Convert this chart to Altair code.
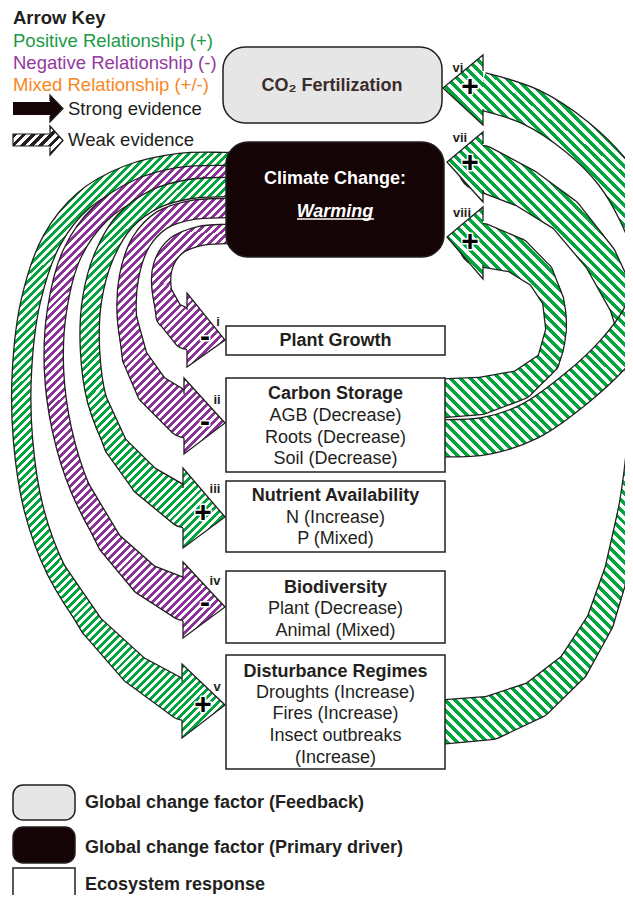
import math
import altair as alt
import pandas as pd

# ------------------------------------------------------------------
# Values (page pixel coordinates)
# ------------------------------------------------------------------
# arrow centre lines, from the source box to the arrow head
ARROW_I_X = [245, 226, 200, 176, 163, 162, 170, 189]
ARROW_I_Y = [234, 234, 236, 246, 266, 292, 315, 330]
ARROW_II_X = [245, 226, 192, 162, 141, 129, 127, 135, 153, 186]
ARROW_II_Y = [208, 208, 210, 220, 242, 277, 318, 358, 390, 416]
ARROW_III_X = [245, 226, 190, 155, 125, 104, 92, 90, 97, 116, 146, 185]
ARROW_III_Y = [187, 187, 189, 199, 221, 256, 300, 350, 400, 446, 481, 508]
ARROW_IV_X = [245, 226, 180, 138, 100, 72, 57, 54, 62, 80, 110, 146, 185]
ARROW_IV_Y = [175, 175, 177, 189, 214, 254, 310, 370, 430, 488, 543, 580, 600]
ARROW_V_X = [245, 226, 180, 128, 84, 52, 31, 22, 23, 34, 56, 92, 135, 184]
ARROW_V_Y = [162, 162, 163, 175, 200, 240, 300, 370, 440, 510, 570, 626, 670, 701]
ARROW_VI_X = [430, 485, 530, 578, 615, 640, 652, 650, 637, 613, 577, 531, 481]
ARROW_VI_Y = [438, 436, 421, 387, 352, 318, 283, 248, 213, 173, 137, 107, 91]
ARROW_VII_X = [430, 490, 535, 573, 600, 617, 630, 638, 640, 636, 624, 600, 565, 525, 481]
ARROW_VII_Y = [723, 718, 700, 667, 622, 570, 510, 450, 400, 350, 305, 258, 215, 188, 168]
ARROW_VIII_X = [430, 480, 520, 548, 556, 553, 540, 515, 481]
ARROW_VIII_Y = [399, 396, 385, 362, 330, 300, 275, 255, 245]

# arrows in drawing order
ARROW_LABELS = ["vii", "vi", "viii", "v", "iv", "iii", "ii", "i"]
ARROW_SIGN = ["+", "+", "+", "+", "-", "+", "-", "-"]
HEAD_BASE_X = [483, 483, 483, 182, 183, 183, 184, 187]
HEAD_TIP_X = [447, 443, 447, 225, 225, 225, 225, 225]
HEAD_CY = [167, 90, 243, 701, 600, 508, 416, 330]
HEAD_HALF = [35, 35, 36, 37, 38, 40, 38, 37]
HEAD_TIP_DY = [-5, -2, -6, 4, 7, 9, 7, 10]
SIGN_X = [470, 470, 470, 203, 205, 203, 205, 205]
SIGN_Y = [163, 87, 242, 705, 603, 513, 422, 337]
LABEL_X = [460, 458, 462, 217, 215, 215, 217, 218]
LABEL_Y = [138, 68, 213, 687, 581, 489, 400, 322]

# ecosystem-response boxes
ECO_X0 = [226, 226, 226, 226, 226]
ECO_X1 = [445, 445, 445, 445, 445]
ECO_Y0 = [326, 378, 481, 571, 655]
ECO_Y1 = [355, 472, 552, 643, 769]
ECO_HEAD = ["Plant Growth", "Carbon Storage", "Nutrient Availability",
            "Biodiversity", "Disturbance Regimes"]
ECO_HEAD_Y = [341, 394, 496, 588, 672]
ECO_ITEMS = ["AGB (Decrease)", "Roots (Decrease)", "Soil (Decrease)",
             "N (Increase)", "P (Mixed)", "Plant  (Decrease)", "Animal (Mixed)",
             "Droughts (Increase)", "Fires (Increase)", "Insect outbreaks",
             "(Increase)"]
ECO_ITEMS_Y = [416, 438, 459, 518, 539, 609, 631, 693, 714, 736, 758]
ECO_TEXT_X = 335.5

# global change factor boxes
CO2_BOX = [223, 442, 47, 123]
CLIMATE_BOX = [226, 444, 142, 257]

# top legend
KEY_TEXT = ["Arrow Key", "Positive Relationship (+)", "Negative Relationship (-)",
            "Mixed Relationship (+/-)"]
KEY_Y = [18, 41, 63, 85]
KEY_COLOR = ["#231f20", "#1b9a47", "#93399f", "#f7881f"]
EVID_TEXT = ["Strong evidence", "Weak evidence"]
EVID_Y = [109, 140]

# bottom legend
LEG_TEXT = ["Global change factor (Feedback)", "Global change factor (Primary driver)",
            "Ecosystem response"]
LEG_Y = [803, 848, 885]
LEG_Y0 = [785, 827, 868]
LEG_Y1 = [820, 863, 915]

# ------------------------------------------------------------------
# style: band widths (px) along each arrow's centre line
# ------------------------------------------------------------------
WIDTHS = {
    "i": [18] * 6 + [27, 38],
    "ii": [18] * 7 + [24, 32, 42],
    "iii": [18] * 9 + [22, 30, 38],
    "iv": [18] * 10 + [23, 31, 40],
    "v": [18] * 11 + [22, 29, 37],
    "vi": [36] * 13,
    "vii": [43, 42, 36, 30, 26, 23, 22, 22, 22, 24, 28, 32, 34, 38, 44],
    "viii": [38, 36, 28, 21, 19, 20, 26, 34, 42],
}

FONT = "Liberation Sans"
INK = "#231f20"
DARK = "#140406"
GREEN = "#00a63c"
PURPLE = "#8c3399"
GREY = "#e6e6e6"

VIEW_W, VIEW_H = 617, 887
XS = alt.Scale(domain=[8, 8 + VIEW_W], nice=False, zero=False)
YS = alt.Scale(domain=[8, 8 + VIEW_H], nice=False, zero=False, reverse=True)


def ex(f="x"):
    return alt.X(f, type="quantitative", scale=XS, axis=None)


def ey(f="y"):
    return alt.Y(f, type="quantitative", scale=YS, axis=None)


def hatch(c1, c2, x0, y0, w, h, period, slope, duty=0.5, margin=0.0):
    """Striped linear gradient (object bounding box units) giving 45 degree
    hatching whose stripes are in phase across marks (page-fixed stripes)."""
    w = max(w, 1.0)
    h = max(h, 1.0)
    sy = 1 if slope == "/" else -1
    step = period * math.sqrt(2)
    vals = [0, w, sy * h, w + sy * h]
    vmin, vmax = min(vals) - margin, max(vals) + margin
    off = x0 + sy * y0
    v0 = math.floor((vmin + off) / step) * step - off
    n = max(1, int(math.ceil((vmax - v0) / step)))
    v1 = v0 + n * step
    k = (v1 - v0) / (w * w + h * h)
    sx0, sy0 = v0 / (2 * w), sy * v0 / (2 * h)
    stops = []
    for i in range(n):
        a, b, c = i / n, (i + duty) / n, (i + 1) / n
        stops += [{"offset": round(a, 6), "color": c1},
                  {"offset": round(b, 6), "color": c1},
                  {"offset": round(b, 6), "color": c2},
                  {"offset": round(c, 6), "color": c2}]
    return {"gradient": "linear", "x1": sx0, "y1": sy0,
            "x2": sx0 + w * k, "y2": sy0 + sy * h * k, "stops": stops}


def shaft(xs, ys, widths, c1, c2, period, slope):
    wmin = min(widths)
    df = pd.DataFrame({"x": xs, "y": ys, "k": list(range(len(xs)))})
    grad = hatch(c1, c2, min(xs), min(ys), max(xs) - min(xs), max(ys) - min(ys),
                 period, slope, margin=wmin)
    base = alt.Chart(df).encode(x=ex(), y=ey(), order=alt.Order("k:Q"))
    line_out = base.mark_line(stroke=INK, strokeWidth=wmin + 2.6, interpolate="catmull-rom",
                              strokeCap="butt", strokeJoin="round", clip=True)
    line_body = base.mark_line(stroke=grad, strokeWidth=wmin, interpolate="catmull-rom",
                               strokeCap="butt", strokeJoin="round", clip=True)
    # wider parts of the band: runs of segments where the width exceeds the minimum
    runs, cur = [], []
    for i in range(len(xs) - 1):
        if widths[i] > wmin or widths[i + 1] > wmin:
            if not cur:
                cur = [i]
            cur.append(i + 1)
        else:
            if cur:
                runs.append(cur)
            cur = []
    if cur:
        runs.append(cur)
    trail_out, trail_body = [], []
    for run in runs:
        tx = [xs[i] for i in run]
        ty = [ys[i] for i in run]
        tw = [widths[i] for i in run]
        tdf = pd.DataFrame({"x": tx, "y": ty, "w": tw, "wo": [v + 2.6 for v in tw],
                            "k": list(range(len(run)))})
        bx0 = min(x - r / 2 for x, r in zip(tx, tw))
        bx1 = max(x + r / 2 for x, r in zip(tx, tw))
        by0 = min(y - r / 2 for y, r in zip(ty, tw))
        by1 = max(y + r / 2 for y, r in zip(ty, tw))
        tgrad = hatch(c1, c2, bx0, by0, bx1 - bx0, by1 - by0, period, slope)
        tb = alt.Chart(tdf).encode(x=ex(), y=ey(), order=alt.Order("k:Q"))
        trail_out.append(tb.mark_trail(fill=INK, clip=True).encode(
            size=alt.Size("wo:Q", scale=None, legend=None)))
        trail_body.append(tb.mark_trail(fill=tgrad, clip=True).encode(
            size=alt.Size("w:Q", scale=None, legend=None)))
    return [line_out] + trail_out + [line_body] + trail_body


def head(base_x, tip_x, cy, hh, tip_dy, shaft_w, c1, c2, period, slope):
    L = abs(tip_x - base_x)
    a = L / (2 * hh)
    s = 1 if tip_x > base_x else -1
    att = min((shaft_w / 2 + 1.0) / hh, 0.95)
    d = tip_dy / hh
    bx, tx = -s * a, s * a
    path = (f"M{bx:.4f},{-att:.4f}L{bx:.4f},-1L{tx:.4f},{d:.4f}"
            f"L{bx:.4f},1L{bx:.4f},{att:.4f}")
    cx = (base_x + tip_x) / 2
    df = pd.DataFrame({"x": [cx], "y": [cy]})
    fill = c1 if c2 is None else hatch(c1, c2, cx - L / 2, cy - hh, L, 2 * hh, period, slope)
    return alt.Chart(df).mark_point(
        shape=path, size=4 * hh * hh, filled=True, fill=fill, stroke=INK,
        strokeWidth=1.3, opacity=1, strokeJoin="miter"
    ).encode(x=ex(), y=ey())


def texts(xs, ys, labels, size, weight="normal", color=INK, align="center",
          style="normal", stroke=None, sw=0):
    df = pd.DataFrame({"x": xs, "y": ys, "t": labels})
    kw = dict(font=FONT, fontSize=size, fontWeight=weight, fontStyle=style,
              color=color, align=align, baseline="middle")
    if stroke:
        kw.update(stroke=stroke, strokeWidth=sw, strokeJoin="round")
    return alt.Chart(df).mark_text(**kw).encode(x=ex(), y=ey(), text="t:N")


def boxes(x0, x1, y0, y1, fill, radius, stroke=INK, sw=1.5):
    df = pd.DataFrame({"x": x0, "x2": x1, "y": y0, "y2": y1})
    kw = dict(fill=fill, cornerRadius=radius, strokeWidth=sw, clip=True)
    if stroke:
        kw["stroke"] = stroke
    return alt.Chart(df).mark_rect(**kw).encode(
        x=ex("x"), x2=alt.X2("x2"), y=ey("y"), y2=alt.Y2("y2"))


PATHS = {
    "i": (ARROW_I_X, ARROW_I_Y), "ii": (ARROW_II_X, ARROW_II_Y),
    "iii": (ARROW_III_X, ARROW_III_Y), "iv": (ARROW_IV_X, ARROW_IV_Y),
    "v": (ARROW_V_X, ARROW_V_Y), "vi": (ARROW_VI_X, ARROW_VI_Y),
    "vii": (ARROW_VII_X, ARROW_VII_Y), "viii": (ARROW_VIII_X, ARROW_VIII_Y),
}

layers = []
for j, lab in enumerate(ARROW_LABELS):
    xs, ys = PATHS[lab]
    widths = WIDTHS[lab]
    colour = GREEN if ARROW_SIGN[j] == "+" else PURPLE
    right_side = HEAD_TIP_X[j] < HEAD_BASE_X[j]
    slope = "\\" if right_side else "/"
    period = 7.0 if right_side else 5.6
    layers += shaft(xs, ys, widths, colour, "white", period, slope)
    layers.append(head(HEAD_BASE_X[j], HEAD_TIP_X[j], HEAD_CY[j], HEAD_HALF[j],
                       HEAD_TIP_DY[j], widths[-1], colour, "white", period, slope))
    sign = "+" if ARROW_SIGN[j] == "+" else "-"
    layers.append(texts([SIGN_X[j]], [SIGN_Y[j]], [sign], 30, "bold",
                        color="white", stroke="white", sw=3))
    layers.append(texts([SIGN_X[j]], [SIGN_Y[j]], [sign], 30, "bold", color="black"))

# boxes
layers.append(boxes([CO2_BOX[0]], [CO2_BOX[1]], [CO2_BOX[2]], [CO2_BOX[3]], GREY, 22))
layers.append(boxes([CLIMATE_BOX[0]], [CLIMATE_BOX[1]], [CLIMATE_BOX[2]], [CLIMATE_BOX[3]],
                    DARK, 22))
layers.append(boxes(ECO_X0, ECO_X1, ECO_Y0, ECO_Y1, "white", 0))

# roman numerals
layers.append(texts(LABEL_X, LABEL_Y, ARROW_LABELS, 13, "bold"))

# box texts
layers.append(texts([ECO_TEXT_X] * len(ECO_HEAD), ECO_HEAD_Y, ECO_HEAD, 18, "bold"))
layers.append(texts([ECO_TEXT_X] * len(ECO_ITEMS), ECO_ITEMS_Y, ECO_ITEMS, 18))
layers.append(texts([332], [86], ["CO\u2082 Fertilization"], 18, "bold", color="#3b2b2b"))
layers.append(texts([335], [179], ["Climate Change:"], 18, "bold", color="white"))
layers.append(texts([335], [212], ["Warming"], 18, "bold", color="white", style="italic"))
uline = pd.DataFrame({"x": [297], "x2": [374], "y": [219]})
layers.append(alt.Chart(uline).mark_rule(color="white", strokeWidth=1.6).encode(
    x=ex("x"), x2=alt.X2("x2"), y=ey("y")))

# top legend
key_df = pd.DataFrame({"x": [13] * 4, "y": KEY_Y, "t": KEY_TEXT, "c": KEY_COLOR,
                       "w": ["bold", "normal", "normal", "normal"]})
for wgt in ["bold", "normal"]:
    sub = key_df[key_df.w == wgt]
    layers.append(alt.Chart(sub).mark_text(
        font=FONT, fontSize=18.5, fontWeight=wgt, align="left", baseline="middle"
    ).encode(x=ex(), y=ey(), text="t:N", color=alt.Color("c:N", scale=None)))
layers.append(texts([68, 68], EVID_Y, EVID_TEXT, 18.5, align="left"))
# strong evidence arrow
layers.append(boxes([13], [52], [102], [115], DARK, 0, stroke=None))
layers.append(head(50, 63, 108.5, 13.5, 0, 13, DARK, None, 0, "/"))
# weak evidence arrow
layers.append(boxes([13], [52], [134], [146],
                    hatch(INK, "white", 13, 134, 39, 12, 6.5, "/"), 0, sw=1.2))
layers.append(head(50, 63, 140.5, 14.5, 0, 12, INK, "white", 6.5, "/"))

# bottom legend
layers.append(boxes([13], [75], [LEG_Y0[0]], [LEG_Y1[0]], GREY, 10))
layers.append(boxes([13], [75], [LEG_Y0[1]], [LEG_Y1[1]], DARK, 10))
layers.append(boxes([13], [75], [LEG_Y0[2]], [LEG_Y1[2]], "white", 0))
layers.append(texts([85] * 3, LEG_Y, LEG_TEXT, 18, "bold", align="left"))

chart = alt.layer(*layers).properties(
    width=VIEW_W, height=VIEW_H, padding=0,
    autosize=alt.AutoSizeParams(type="none"), background="white"
).configure_view(stroke=None)

chart.save("out.html", embed_options={"renderer": "svg", "actions": False})
